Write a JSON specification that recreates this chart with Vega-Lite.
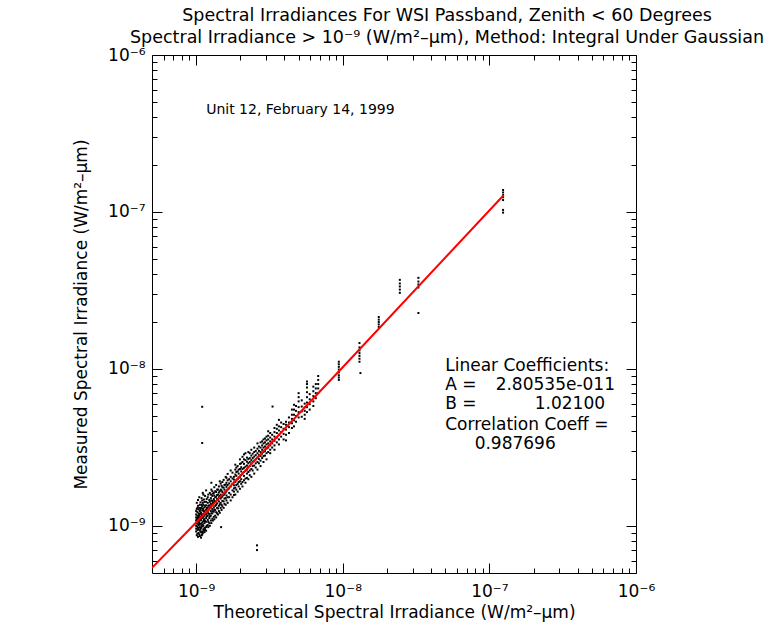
{
"$schema":"https://vega.github.io/schema/vega-lite/v6.json",
"width":484,"height":518,
"autosize":{"type":"none"},
"padding":{"left":152,"top":55,"right":144,"bottom":53},
"background":"white",
"config":{"view":{"stroke":"black","strokeWidth":1},"font":"DejaVu Sans","text":{"font":"DejaVu Sans"}},
"title":{"text":["Spectral Irradiances For WSI Passband, Zenith < 60 Degrees","Spectral Irradiance > 10⁻⁹ (W/m²–μm), Method: Integral Under Gaussian"],"anchor":"middle","dx":53,"fontSize":17.5,"fontWeight":"normal","font":"DejaVu Sans","color":"black","lineHeight":22,"offset":0},
"resolve":{"axis":{"x":"independent","y":"independent"}},
"layer":[
{"data":{"values":[
{"x":1.00e-9,"y":0.92e-9},{"x":1.00e-9,"y":0.96e-9},{"x":1.00e-9,"y":1.00e-9},{"x":1.00e-9,"y":1.04e-9},{"x":1.00e-9,"y":1.08e-9},{"x":1.00e-9,"y":1.13e-9},{"x":1.00e-9,"y":1.18e-9},{"x":1.00e-9,"y":1.24e-9},
{"x":1.02e-9,"y":0.89e-9},{"x":1.02e-9,"y":0.94e-9},{"x":1.02e-9,"y":0.99e-9},{"x":1.02e-9,"y":1.03e-9},{"x":1.02e-9,"y":1.07e-9},{"x":1.02e-9,"y":1.11e-9},{"x":1.02e-9,"y":1.16e-9},{"x":1.02e-9,"y":1.22e-9},{"x":1.02e-9,"y":1.30e-9},
{"x":1.04e-9,"y":0.90e-9},{"x":1.04e-9,"y":0.95e-9},{"x":1.04e-9,"y":1.01e-9},{"x":1.04e-9,"y":1.06e-9},{"x":1.04e-9,"y":1.10e-9},{"x":1.04e-9,"y":1.15e-9},{"x":1.04e-9,"y":1.20e-9},{"x":1.04e-9,"y":1.27e-9},
{"x":1.06e-9,"y":0.86e-9},{"x":1.06e-9,"y":0.93e-9},{"x":1.06e-9,"y":0.98e-9},{"x":1.06e-9,"y":1.02e-9},{"x":1.06e-9,"y":1.08e-9},{"x":1.06e-9,"y":1.13e-9},{"x":1.06e-9,"y":1.19e-9},{"x":1.06e-9,"y":1.24e-9},{"x":1.06e-9,"y":1.36e-9},
{"x":1.08e-9,"y":0.84e-9},{"x":1.08e-9,"y":0.91e-9},{"x":1.08e-9,"y":0.97e-9},{"x":1.08e-9,"y":1.03e-9},{"x":1.08e-9,"y":1.09e-9},{"x":1.08e-9,"y":1.14e-9},{"x":1.08e-9,"y":1.21e-9},{"x":1.08e-9,"y":1.30e-9},
{"x":1.10e-9,"y":0.88e-9},{"x":1.10e-9,"y":0.92e-9},{"x":1.10e-9,"y":0.99e-9},{"x":1.10e-9,"y":1.05e-9},{"x":1.10e-9,"y":1.12e-9},{"x":1.10e-9,"y":1.18e-9},{"x":1.10e-9,"y":1.25e-9},{"x":1.10e-9,"y":1.33e-9},{"x":1.10e-9,"y":1.45e-9},
{"x":1.12e-9,"y":0.95e-9},{"x":1.12e-9,"y":1.00e-9},{"x":1.12e-9,"y":1.07e-9},{"x":1.12e-9,"y":1.13e-9},{"x":1.12e-9,"y":1.19e-9},{"x":1.12e-9,"y":1.27e-9},{"x":1.12e-9,"y":1.36e-9},{"x":1.12e-9,"y":1.58e-9},
{"x":1.14e-9,"y":0.91e-9},{"x":1.14e-9,"y":0.97e-9},{"x":1.14e-9,"y":1.04e-9},{"x":1.14e-9,"y":1.10e-9},{"x":1.14e-9,"y":1.16e-9},{"x":1.14e-9,"y":1.22e-9},{"x":1.14e-9,"y":1.31e-9},{"x":1.14e-9,"y":1.42e-9},
{"x":1.17e-9,"y":0.93e-9},{"x":1.17e-9,"y":0.98e-9},{"x":1.17e-9,"y":1.06e-9},{"x":1.17e-9,"y":1.12e-9},{"x":1.17e-9,"y":1.19e-9},{"x":1.17e-9,"y":1.26e-9},{"x":1.17e-9,"y":1.35e-9},{"x":1.17e-9,"y":1.42e-9},{"x":1.17e-9,"y":1.68e-9},
{"x":1.20e-9,"y":1.01e-9},{"x":1.20e-9,"y":1.09e-9},{"x":1.20e-9,"y":1.16e-9},{"x":1.20e-9,"y":1.23e-9},{"x":1.20e-9,"y":1.30e-9},{"x":1.20e-9,"y":1.40e-9},{"x":1.20e-9,"y":1.52e-9},
{"x":1.23e-9,"y":1.04e-9},{"x":1.23e-9,"y":1.12e-9},{"x":1.23e-9,"y":1.19e-9},{"x":1.23e-9,"y":1.27e-9},{"x":1.23e-9,"y":1.35e-9},{"x":1.23e-9,"y":1.46e-9},
{"x":1.26e-9,"y":1.08e-9},{"x":1.26e-9,"y":1.16e-9},{"x":1.26e-9,"y":1.24e-9},{"x":1.26e-9,"y":1.31e-9},{"x":1.26e-9,"y":1.38e-9},{"x":1.26e-9,"y":1.50e-9},{"x":1.26e-9,"y":1.58e-9},{"x":1.27e-9,"y":1.88e-9},
{"x":1.29e-9,"y":1.11e-9},{"x":1.29e-9,"y":1.20e-9},{"x":1.29e-9,"y":1.28e-9},{"x":1.29e-9,"y":1.36e-9},{"x":1.29e-9,"y":1.44e-9},{"x":1.29e-9,"y":1.55e-9},{"x":1.29e-9,"y":1.66e-9},
{"x":1.32e-9,"y":1.14e-9},{"x":1.32e-9,"y":1.23e-9},{"x":1.32e-9,"y":1.31e-9},{"x":1.32e-9,"y":1.40e-9},{"x":1.32e-9,"y":1.48e-9},{"x":1.32e-9,"y":1.62e-9},
{"x":1.35e-9,"y":1.16e-9},{"x":1.35e-9,"y":1.26e-9},{"x":1.35e-9,"y":1.34e-9},{"x":1.35e-9,"y":1.43e-9},{"x":1.35e-9,"y":1.52e-9},{"x":1.35e-9,"y":1.66e-9},
{"x":1.39e-9,"y":1.20e-9},{"x":1.39e-9,"y":1.30e-9},{"x":1.39e-9,"y":1.39e-9},{"x":1.39e-9,"y":1.48e-9},{"x":1.39e-9,"y":1.57e-9},{"x":1.39e-9,"y":1.70e-9},
{"x":1.43e-9,"y":1.24e-9},{"x":1.43e-9,"y":1.34e-9},{"x":1.43e-9,"y":1.43e-9},{"x":1.43e-9,"y":1.52e-9},{"x":1.43e-9,"y":1.63e-9},{"x":1.43e-9,"y":1.78e-9},
{"x":1.47e-9,"y":1.30e-9},{"x":1.47e-9,"y":1.40e-9},{"x":1.47e-9,"y":1.49e-9},{"x":1.47e-9,"y":1.58e-9},{"x":1.47e-9,"y":1.70e-9},{"x":1.47e-9,"y":1.86e-9},{"x":1.48e-9,"y":0.98e-9},
{"x":1.51e-9,"y":1.33e-9},{"x":1.51e-9,"y":1.44e-9},{"x":1.51e-9,"y":1.54e-9},{"x":1.51e-9,"y":1.64e-9},{"x":1.51e-9,"y":1.76e-9},{"x":1.51e-9,"y":1.90e-9},
{"x":1.56e-9,"y":1.38e-9},{"x":1.56e-9,"y":1.49e-9},{"x":1.56e-9,"y":1.60e-9},{"x":1.56e-9,"y":1.70e-9},{"x":1.56e-9,"y":1.82e-9},
{"x":1.61e-9,"y":1.45e-9},{"x":1.61e-9,"y":1.56e-9},{"x":1.61e-9,"y":1.66e-9},{"x":1.61e-9,"y":1.77e-9},{"x":1.61e-9,"y":1.88e-9},{"x":1.61e-9,"y":2.02e-9},
{"x":1.68e-9,"y":1.52e-9},{"x":1.68e-9,"y":1.62e-9},{"x":1.68e-9,"y":1.73e-9},{"x":1.68e-9,"y":1.86e-9},{"x":1.68e-9,"y":1.98e-9},
{"x":1.81e-9,"y":1.57e-9},{"x":1.81e-9,"y":1.65e-9},{"x":1.81e-9,"y":1.73e-9},{"x":1.81e-9,"y":1.81e-9},{"x":1.81e-9,"y":1.89e-9},{"x":1.81e-9,"y":1.97e-9},{"x":1.81e-9,"y":2.05e-9},
{"x":1.88e-9,"y":1.70e-9},{"x":1.88e-9,"y":1.82e-9},{"x":1.88e-9,"y":1.95e-9},{"x":1.88e-9,"y":2.08e-9},{"x":1.88e-9,"y":2.20e-9},{"x":1.88e-9,"y":2.35e-9},
{"x":1.95e-9,"y":1.78e-9},{"x":1.95e-9,"y":1.90e-9},{"x":1.95e-9,"y":2.02e-9},{"x":1.95e-9,"y":2.15e-9},{"x":1.95e-9,"y":2.28e-9},
{"x":2.03e-9,"y":1.85e-9},{"x":2.03e-9,"y":1.98e-9},{"x":2.03e-9,"y":2.10e-9},{"x":2.03e-9,"y":2.22e-9},{"x":2.03e-9,"y":2.36e-9},{"x":2.03e-9,"y":2.50e-9},
{"x":2.12e-9,"y":1.95e-9},{"x":2.12e-9,"y":2.08e-9},{"x":2.12e-9,"y":2.20e-9},{"x":2.12e-9,"y":2.34e-9},{"x":2.12e-9,"y":2.48e-9},{"x":2.12e-9,"y":2.65e-9},{"x":2.12e-9,"y":2.85e-9},
{"x":2.22e-9,"y":2.02e-9},{"x":2.22e-9,"y":2.15e-9},{"x":2.22e-9,"y":2.28e-9},{"x":2.22e-9,"y":2.42e-9},{"x":2.22e-9,"y":2.56e-9},{"x":2.22e-9,"y":2.72e-9},
{"x":2.32e-9,"y":2.10e-9},{"x":2.32e-9,"y":2.25e-9},{"x":2.32e-9,"y":2.40e-9},{"x":2.32e-9,"y":2.55e-9},{"x":2.32e-9,"y":2.70e-9},{"x":2.32e-9,"y":2.90e-9},
{"x":2.43e-9,"y":2.25e-9},{"x":2.43e-9,"y":2.40e-9},{"x":2.43e-9,"y":2.55e-9},{"x":2.43e-9,"y":2.70e-9},{"x":2.43e-9,"y":2.88e-9},
{"x":2.55e-9,"y":2.35e-9},{"x":2.55e-9,"y":2.50e-9},{"x":2.55e-9,"y":2.65e-9},{"x":2.55e-9,"y":2.82e-9},{"x":2.55e-9,"y":3.00e-9},
{"x":2.60e-9,"y":0.75e-9},{"x":2.60e-9,"y":0.70e-9},
{"x":2.68e-9,"y":2.50e-9},{"x":2.68e-9,"y":2.66e-9},{"x":2.68e-9,"y":2.82e-9},{"x":2.68e-9,"y":3.00e-9},{"x":2.68e-9,"y":3.20e-9},
{"x":2.82e-9,"y":2.70e-9},{"x":2.82e-9,"y":2.88e-9},{"x":2.82e-9,"y":3.05e-9},{"x":2.82e-9,"y":3.25e-9},{"x":2.82e-9,"y":3.45e-9},
{"x":2.95e-9,"y":2.80e-9},{"x":2.95e-9,"y":3.00e-9},{"x":2.95e-9,"y":3.20e-9},{"x":2.95e-9,"y":3.40e-9},{"x":2.95e-9,"y":3.60e-9},
{"x":3.10e-9,"y":2.95e-9},{"x":3.10e-9,"y":3.15e-9},{"x":3.10e-9,"y":3.35e-9},{"x":3.10e-9,"y":3.55e-9},{"x":3.10e-9,"y":3.75e-9},{"x":3.10e-9,"y":4.00e-9},
{"x":3.30e-9,"y":3.15e-9},{"x":3.30e-9,"y":3.35e-9},{"x":3.30e-9,"y":3.55e-9},{"x":3.30e-9,"y":3.80e-9},{"x":3.32e-9,"y":5.75e-9},
{"x":3.55e-9,"y":3.40e-9},{"x":3.55e-9,"y":3.65e-9},{"x":3.55e-9,"y":3.90e-9},{"x":3.55e-9,"y":4.15e-9},{"x":3.55e-9,"y":4.40e-9},{"x":3.67e-9,"y":4.73e-9},
{"x":3.80e-9,"y":3.70e-9},{"x":3.80e-9,"y":3.95e-9},{"x":3.80e-9,"y":4.25e-9},{"x":3.80e-9,"y":4.55e-9},
{"x":4.10e-9,"y":3.50e-9},{"x":4.10e-9,"y":3.80e-9},{"x":4.10e-9,"y":4.10e-9},{"x":4.10e-9,"y":4.40e-9},{"x":4.10e-9,"y":4.60e-9},
{"x":4.50e-9,"y":4.20e-9},{"x":4.50e-9,"y":4.50e-9},{"x":4.50e-9,"y":4.80e-9},{"x":4.50e-9,"y":5.10e-9},{"x":4.50e-9,"y":5.50e-9},
{"x":4.80e-9,"y":4.60e-9},{"x":4.80e-9,"y":5.00e-9},{"x":4.80e-9,"y":5.40e-9},{"x":4.80e-9,"y":5.80e-9},
{"x":5.00e-9,"y":4.90e-9},{"x":5.00e-9,"y":5.30e-9},{"x":5.00e-9,"y":5.70e-9},{"x":5.00e-9,"y":6.20e-9},{"x":5.00e-9,"y":6.60e-9},{"x":5.00e-9,"y":7.00e-9},
{"x":5.50e-9,"y":4.80e-9},{"x":5.50e-9,"y":5.10e-9},{"x":5.50e-9,"y":5.40e-9},{"x":5.50e-9,"y":5.70e-9},{"x":5.50e-9,"y":6.00e-9},
{"x":5.70e-9,"y":5.30e-9},{"x":5.70e-9,"y":5.70e-9},{"x":5.70e-9,"y":6.10e-9},{"x":5.70e-9,"y":6.60e-9},{"x":5.70e-9,"y":7.10e-9},{"x":5.70e-9,"y":7.60e-9},{"x":5.70e-9,"y":8.00e-9},{"x":5.70e-9,"y":8.30e-9},
{"x":6.30e-9,"y":5.80e-9},{"x":6.30e-9,"y":6.20e-9},{"x":6.30e-9,"y":6.70e-9},{"x":6.30e-9,"y":7.20e-9},{"x":6.30e-9,"y":7.70e-9},
{"x":6.80e-9,"y":7.00e-9},{"x":6.80e-9,"y":7.50e-9},{"x":6.80e-9,"y":8.00e-9},{"x":6.80e-9,"y":8.50e-9},{"x":6.80e-9,"y":9.00e-9},
{"x":9.40e-9,"y":8.50e-9},{"x":9.40e-9,"y":8.80e-9},{"x":9.40e-9,"y":9.10e-9},{"x":9.40e-9,"y":9.50e-9},{"x":9.40e-9,"y":9.90e-9},{"x":9.40e-9,"y":10.3e-9},{"x":9.40e-9,"y":10.7e-9},{"x":9.40e-9,"y":11.1e-9},
{"x":13.0e-9,"y":11.1e-9},{"x":13.0e-9,"y":11.6e-9},{"x":13.0e-9,"y":12.1e-9},{"x":13.0e-9,"y":12.6e-9},{"x":13.0e-9,"y":13.1e-9},{"x":13.0e-9,"y":13.7e-9},{"x":13.0e-9,"y":14.6e-9},{"x":13.2e-9,"y":9.4e-9},
{"x":17.6e-9,"y":18.5e-9},{"x":17.6e-9,"y":19.2e-9},{"x":17.6e-9,"y":19.9e-9},{"x":17.6e-9,"y":20.6e-9},{"x":17.6e-9,"y":21.4e-9},
{"x":24.5e-9,"y":30.5e-9},{"x":24.5e-9,"y":32.0e-9},{"x":24.5e-9,"y":33.5e-9},{"x":24.5e-9,"y":35.0e-9},{"x":24.5e-9,"y":36.9e-9},
{"x":32.8e-9,"y":33.0e-9},{"x":32.8e-9,"y":34.5e-9},{"x":32.8e-9,"y":36.0e-9},{"x":32.8e-9,"y":38.0e-9},{"x":32.8e-9,"y":22.7e-9},
{"x":124e-9,"y":99e-9},{"x":124e-9,"y":103e-9},{"x":124e-9,"y":119e-9},{"x":124e-9,"y":124e-9},{"x":124e-9,"y":128e-9},{"x":124e-9,"y":133e-9},{"x":124e-9,"y":138e-9},
{"x":1.10e-9,"y":3.37e-9},{"x":1.10e-9,"y":5.73e-9},
{"x":1.01e-9,"y":0.87e-9},{"x":1.01e-9,"y":1.10e-9},{"x":1.01e-9,"y":1.28e-9},{"x":1.01e-9,"y":1.40e-9},
{"x":1.03e-9,"y":0.85e-9},{"x":1.03e-9,"y":0.97e-9},{"x":1.03e-9,"y":1.13e-9},{"x":1.03e-9,"y":1.34e-9},{"x":1.03e-9,"y":1.46e-9},
{"x":1.05e-9,"y":0.88e-9},{"x":1.05e-9,"y":1.04e-9},{"x":1.05e-9,"y":1.17e-9},{"x":1.05e-9,"y":1.30e-9},{"x":1.05e-9,"y":1.52e-9},
{"x":1.07e-9,"y":0.95e-9},{"x":1.07e-9,"y":1.11e-9},{"x":1.07e-9,"y":1.27e-9},{"x":1.07e-9,"y":1.41e-9},
{"x":1.09e-9,"y":0.87e-9},{"x":1.09e-9,"y":1.00e-9},{"x":1.09e-9,"y":1.17e-9},{"x":1.09e-9,"y":1.36e-9},{"x":1.09e-9,"y":1.50e-9},
{"x":1.11e-9,"y":0.90e-9},{"x":1.11e-9,"y":1.02e-9},{"x":1.11e-9,"y":1.15e-9},{"x":1.11e-9,"y":1.29e-9},{"x":1.11e-9,"y":1.40e-9},{"x":1.11e-9,"y":1.62e-9},
{"x":1.13e-9,"y":0.93e-9},{"x":1.13e-9,"y":1.09e-9},{"x":1.13e-9,"y":1.24e-9},{"x":1.13e-9,"y":1.47e-9},
{"x":1.15e-9,"y":0.95e-9},{"x":1.15e-9,"y":1.07e-9},{"x":1.15e-9,"y":1.19e-9},{"x":1.15e-9,"y":1.34e-9},{"x":1.15e-9,"y":1.55e-9},
{"x":1.18e-9,"y":1.00e-9},{"x":1.18e-9,"y":1.15e-9},{"x":1.18e-9,"y":1.30e-9},{"x":1.18e-9,"y":1.48e-9},
{"x":1.21e-9,"y":0.98e-9},{"x":1.21e-9,"y":1.06e-9},{"x":1.21e-9,"y":1.20e-9},{"x":1.21e-9,"y":1.34e-9},{"x":1.21e-9,"y":1.58e-9},
{"x":1.24e-9,"y":1.00e-9},{"x":1.24e-9,"y":1.15e-9},{"x":1.24e-9,"y":1.31e-9},{"x":1.24e-9,"y":1.42e-9},{"x":1.24e-9,"y":1.62e-9},
{"x":1.27e-9,"y":1.04e-9},{"x":1.27e-9,"y":1.20e-9},{"x":1.27e-9,"y":1.34e-9},{"x":1.27e-9,"y":1.45e-9},{"x":1.27e-9,"y":1.70e-9},
{"x":1.30e-9,"y":1.08e-9},{"x":1.30e-9,"y":1.24e-9},{"x":1.30e-9,"y":1.40e-9},{"x":1.30e-9,"y":1.60e-9},
{"x":1.33e-9,"y":1.10e-9},{"x":1.33e-9,"y":1.27e-9},{"x":1.33e-9,"y":1.44e-9},{"x":1.33e-9,"y":1.56e-9},{"x":1.33e-9,"y":1.76e-9},
{"x":1.37e-9,"y":1.13e-9},{"x":1.37e-9,"y":1.22e-9},{"x":1.37e-9,"y":1.36e-9},{"x":1.37e-9,"y":1.53e-9},{"x":1.37e-9,"y":1.64e-9},{"x":1.37e-9,"y":1.82e-9},
{"x":1.41e-9,"y":1.18e-9},{"x":1.41e-9,"y":1.29e-9},{"x":1.41e-9,"y":1.47e-9},{"x":1.41e-9,"y":1.58e-9},{"x":1.41e-9,"y":1.70e-9},
{"x":1.45e-9,"y":1.21e-9},{"x":1.45e-9,"y":1.37e-9},{"x":1.45e-9,"y":1.55e-9},{"x":1.45e-9,"y":1.66e-9},{"x":1.45e-9,"y":1.92e-9},
{"x":1.49e-9,"y":1.26e-9},{"x":1.49e-9,"y":1.36e-9},{"x":1.49e-9,"y":1.52e-9},{"x":1.49e-9,"y":1.68e-9},{"x":1.49e-9,"y":1.80e-9},
{"x":1.54e-9,"y":1.30e-9},{"x":1.54e-9,"y":1.43e-9},{"x":1.54e-9,"y":1.57e-9},{"x":1.54e-9,"y":1.75e-9},{"x":1.54e-9,"y":1.96e-9},
{"x":1.59e-9,"y":1.36e-9},{"x":1.59e-9,"y":1.50e-9},{"x":1.59e-9,"y":1.63e-9},{"x":1.59e-9,"y":1.83e-9},{"x":1.59e-9,"y":2.05e-9},
{"x":1.64e-9,"y":1.40e-9},{"x":1.64e-9,"y":1.52e-9},{"x":1.64e-9,"y":1.70e-9},{"x":1.64e-9,"y":1.82e-9},{"x":1.64e-9,"y":1.95e-9},{"x":1.64e-9,"y":2.14e-9},
{"x":1.72e-9,"y":1.45e-9},{"x":1.72e-9,"y":1.58e-9},{"x":1.72e-9,"y":1.78e-9},{"x":1.72e-9,"y":1.92e-9},{"x":1.72e-9,"y":2.05e-9},{"x":1.72e-9,"y":2.25e-9},
{"x":1.77e-9,"y":1.52e-9},{"x":1.77e-9,"y":1.68e-9},{"x":1.77e-9,"y":1.85e-9},{"x":1.77e-9,"y":2.00e-9},{"x":1.77e-9,"y":2.18e-9},
{"x":1.85e-9,"y":1.58e-9},{"x":1.85e-9,"y":1.75e-9},{"x":1.85e-9,"y":1.90e-9},{"x":1.85e-9,"y":2.12e-9},{"x":1.85e-9,"y":2.28e-9},{"x":1.85e-9,"y":2.45e-9},
{"x":1.92e-9,"y":1.65e-9},{"x":1.92e-9,"y":1.85e-9},{"x":1.92e-9,"y":1.98e-9},{"x":1.92e-9,"y":2.22e-9},{"x":1.92e-9,"y":2.40e-9},
{"x":1.99e-9,"y":1.72e-9},{"x":1.99e-9,"y":1.92e-9},{"x":1.99e-9,"y":2.05e-9},{"x":1.99e-9,"y":2.30e-9},{"x":1.99e-9,"y":2.48e-9},{"x":1.99e-9,"y":2.65e-9},
{"x":2.07e-9,"y":1.78e-9},{"x":2.07e-9,"y":1.90e-9},{"x":2.07e-9,"y":2.15e-9},{"x":2.07e-9,"y":2.30e-9},{"x":2.07e-9,"y":2.55e-9},{"x":2.07e-9,"y":2.75e-9},
{"x":2.17e-9,"y":1.88e-9},{"x":2.17e-9,"y":2.00e-9},{"x":2.17e-9,"y":2.24e-9},{"x":2.17e-9,"y":2.38e-9},{"x":2.17e-9,"y":2.62e-9},{"x":2.17e-9,"y":2.90e-9},
{"x":2.27e-9,"y":1.98e-9},{"x":2.27e-9,"y":2.20e-9},{"x":2.27e-9,"y":2.35e-9},{"x":2.27e-9,"y":2.50e-9},{"x":2.27e-9,"y":2.66e-9},{"x":2.27e-9,"y":2.95e-9},
{"x":2.38e-9,"y":2.05e-9},{"x":2.38e-9,"y":2.30e-9},{"x":2.38e-9,"y":2.48e-9},{"x":2.38e-9,"y":2.62e-9},{"x":2.38e-9,"y":2.80e-9},{"x":2.38e-9,"y":3.05e-9},
{"x":2.49e-9,"y":2.15e-9},{"x":2.49e-9,"y":2.42e-9},{"x":2.49e-9,"y":2.60e-9},{"x":2.49e-9,"y":2.76e-9},{"x":2.49e-9,"y":2.95e-9},{"x":2.49e-9,"y":3.15e-9},
{"x":2.62e-9,"y":2.28e-9},{"x":2.62e-9,"y":2.55e-9},{"x":2.62e-9,"y":2.72e-9},{"x":2.62e-9,"y":2.90e-9},{"x":2.62e-9,"y":3.10e-9},{"x":2.62e-9,"y":3.35e-9},
{"x":2.75e-9,"y":2.40e-9},{"x":2.75e-9,"y":2.60e-9},{"x":2.75e-9,"y":2.78e-9},{"x":2.75e-9,"y":2.95e-9},{"x":2.75e-9,"y":3.15e-9},{"x":2.75e-9,"y":3.40e-9},
{"x":2.88e-9,"y":2.55e-9},{"x":2.88e-9,"y":2.78e-9},{"x":2.88e-9,"y":2.95e-9},{"x":2.88e-9,"y":3.15e-9},{"x":2.88e-9,"y":3.35e-9},{"x":2.88e-9,"y":3.55e-9},
{"x":3.02e-9,"y":2.65e-9},{"x":3.02e-9,"y":2.90e-9},{"x":3.02e-9,"y":3.10e-9},{"x":3.02e-9,"y":3.30e-9},{"x":3.02e-9,"y":3.50e-9},{"x":3.02e-9,"y":3.70e-9},
{"x":3.20e-9,"y":2.90e-9},{"x":3.20e-9,"y":3.05e-9},{"x":3.20e-9,"y":3.25e-9},{"x":3.20e-9,"y":3.45e-9},{"x":3.20e-9,"y":3.65e-9},{"x":3.20e-9,"y":3.90e-9},
{"x":3.42e-9,"y":3.05e-9},{"x":3.42e-9,"y":3.25e-9},{"x":3.42e-9,"y":3.48e-9},{"x":3.42e-9,"y":3.70e-9},{"x":3.42e-9,"y":3.95e-9},{"x":3.42e-9,"y":4.20e-9},
{"x":3.67e-9,"y":3.30e-9},{"x":3.67e-9,"y":3.55e-9},{"x":3.67e-9,"y":3.80e-9},{"x":3.67e-9,"y":4.05e-9},{"x":3.67e-9,"y":4.30e-9},
{"x":3.95e-9,"y":3.55e-9},{"x":3.95e-9,"y":3.85e-9},{"x":3.95e-9,"y":4.15e-9},{"x":3.95e-9,"y":4.45e-9},
{"x":4.30e-9,"y":3.90e-9},{"x":4.30e-9,"y":4.25e-9},{"x":4.30e-9,"y":4.55e-9},{"x":4.30e-9,"y":4.90e-9},
{"x":4.65e-9,"y":4.30e-9},{"x":4.65e-9,"y":4.70e-9},{"x":4.65e-9,"y":5.10e-9},{"x":4.65e-9,"y":5.50e-9},{"x":4.65e-9,"y":5.90e-9},
{"x":5.25e-9,"y":4.95e-9},{"x":5.25e-9,"y":5.35e-9},{"x":5.25e-9,"y":5.75e-9},{"x":5.25e-9,"y":6.30e-9},
{"x":5.95e-9,"y":5.50e-9},{"x":5.95e-9,"y":5.95e-9},{"x":5.95e-9,"y":6.40e-9},{"x":5.95e-9,"y":6.90e-9},
{"x":6.55e-9,"y":6.50e-9},{"x":6.55e-9,"y":7.00e-9},{"x":6.55e-9,"y":7.50e-9},{"x":6.55e-9,"y":8.00e-9}
]},
"mark":{"type":"square","size":4,"color":"black","opacity":1},
"encoding":{
"x":{"field":"x","type":"quantitative","scale":{"type":"log","domain":[5e-10,1e-6],"nice":false},
"axis":{"orient":"bottom","grid":false,"domain":false,"labelOverlap":false,"labelFlush":false,"labelBound":false,
"values":[6e-10,7e-10,8e-10,9e-10,1e-9,2e-9,3e-9,4e-9,5e-9,6e-9,7e-9,8e-9,9e-9,1e-8,2e-8,3e-8,4e-8,5e-8,6e-8,7e-8,8e-8,9e-8,1e-7,2e-7,3e-7,4e-7,5e-7,6e-7,7e-7,8e-7,9e-7,1e-6],
"tickSize":{"condition":{"test":"abs(log(datum.value)/LN10 - round(log(datum.value)/LN10)) < 0.001","value":-10},"value":-5},
"tickColor":"black","tickWidth":1,
"labelExpr":"abs(log(datum.value)/LN10 - round(log(datum.value)/LN10)) < 0.001 ? (round(log(datum.value)/LN10) == -9 ? '10⁻⁹' : round(log(datum.value)/LN10) == -8 ? '10⁻⁸' : round(log(datum.value)/LN10) == -7 ? '10⁻⁷' : '10⁻⁶') : ''",
"labelFont":"DejaVu Sans","labelFontSize":17,"labelColor":"black","labelPadding":20,
"title":"Theoretical Spectral Irradiance (W/m²–μm)","titleFont":"DejaVu Sans","titleFontSize":17,"titleFontWeight":"normal","titleColor":"black","titlePadding":0}},
"y":{"field":"y","type":"quantitative","scale":{"type":"log","domain":[5e-10,1e-6],"nice":false},
"axis":{"orient":"left","grid":false,"domain":false,"labelOverlap":false,"labelFlush":false,"labelBound":false,
"values":[6e-10,7e-10,8e-10,9e-10,1e-9,2e-9,3e-9,4e-9,5e-9,6e-9,7e-9,8e-9,9e-9,1e-8,2e-8,3e-8,4e-8,5e-8,6e-8,7e-8,8e-8,9e-8,1e-7,2e-7,3e-7,4e-7,5e-7,6e-7,7e-7,8e-7,9e-7,1e-6],
"tickSize":{"condition":{"test":"abs(log(datum.value)/LN10 - round(log(datum.value)/LN10)) < 0.001","value":-10},"value":-5},
"tickColor":"black","tickWidth":1,
"labelExpr":"abs(log(datum.value)/LN10 - round(log(datum.value)/LN10)) < 0.001 ? (round(log(datum.value)/LN10) == -9 ? '10⁻⁹' : round(log(datum.value)/LN10) == -8 ? '10⁻⁸' : round(log(datum.value)/LN10) == -7 ? '10⁻⁷' : '10⁻⁶') : ''",
"labelFont":"DejaVu Sans","labelFontSize":17,"labelColor":"black","labelPadding":17,
"title":"Measured Spectral Irradiance (W/m²–μm)","titleFont":"DejaVu Sans","titleFontSize":17,"titleFontWeight":"normal","titleColor":"black","titlePadding":17}}
}},
{"data":{"values":[{"x":5e-10,"y":5.39e-10},{"x":1e-9,"y":1.049e-9},{"x":1e-8,"y":1.024e-8},{"x":1.25e-7,"y":1.277e-7}]},
"mark":{"type":"line","color":"#ff0000","strokeWidth":2,"clip":true},
"encoding":{
"x":{"field":"x","type":"quantitative","scale":{"type":"log","domain":[5e-10,1e-6],"nice":false},
"axis":{"orient":"top","grid":false,"domain":false,"labels":false,"title":null,
"values":[6e-10,7e-10,8e-10,9e-10,1e-9,2e-9,3e-9,4e-9,5e-9,6e-9,7e-9,8e-9,9e-9,1e-8,2e-8,3e-8,4e-8,5e-8,6e-8,7e-8,8e-8,9e-8,1e-7,2e-7,3e-7,4e-7,5e-7,6e-7,7e-7,8e-7,9e-7,1e-6],
"tickSize":{"condition":{"test":"abs(log(datum.value)/LN10 - round(log(datum.value)/LN10)) < 0.001","value":-10},"value":-5},
"tickColor":"black","tickWidth":1}},
"y":{"field":"y","type":"quantitative","scale":{"type":"log","domain":[5e-10,1e-6],"nice":false},
"axis":{"orient":"right","grid":false,"domain":false,"labels":false,"title":null,
"values":[6e-10,7e-10,8e-10,9e-10,1e-9,2e-9,3e-9,4e-9,5e-9,6e-9,7e-9,8e-9,9e-9,1e-8,2e-8,3e-8,4e-8,5e-8,6e-8,7e-8,8e-8,9e-8,1e-7,2e-7,3e-7,4e-7,5e-7,6e-7,7e-7,8e-7,9e-7,1e-6],
"tickSize":{"condition":{"test":"abs(log(datum.value)/LN10 - round(log(datum.value)/LN10)) < 0.001","value":-10},"value":-5},
"tickColor":"black","tickWidth":1}}
}},
{"data":{"values":[
{"x":1.17e-9,"y":4.47e-7,"label":"Unit 12, February 14, 1999"}
]},
"mark":{"type":"text","align":"left","baseline":"middle","fontSize":14,"font":"DejaVu Sans","color":"black"},
"encoding":{
"x":{"field":"x","type":"quantitative","scale":{"type":"log","domain":[5e-10,1e-6],"nice":false},"axis":null},
"y":{"field":"y","type":"quantitative","scale":{"type":"log","domain":[5e-10,1e-6],"nice":false},"axis":null},
"text":{"field":"label"}}},
{"data":{"values":[
{"x":5.0e-8,"y":1.045e-8,"label":"Linear Coefficients:"},
{"x":5.0e-8,"y":7.91e-9,"label":"A ="},
{"x":5.0e-8,"y":5.98e-9,"label":"B ="},
{"x":5.0e-8,"y":4.40e-9,"label":"Correlation Coeff ="}
]},
"mark":{"type":"text","align":"left","baseline":"middle","fontSize":17,"font":"DejaVu Sans","color":"black"},
"encoding":{
"x":{"field":"x","type":"quantitative","scale":{"type":"log","domain":[5e-10,1e-6],"nice":false},"axis":null},
"y":{"field":"y","type":"quantitative","scale":{"type":"log","domain":[5e-10,1e-6],"nice":false},"axis":null},
"text":{"field":"label"}}},
{"data":{"values":[
{"x":7.19e-7,"y":7.91e-9,"label":"2.80535e-011"},
{"x":6.15e-7,"y":5.98e-9,"label":"1.02100"}
]},
"mark":{"type":"text","align":"right","baseline":"middle","fontSize":17,"font":"DejaVu Sans","color":"black"},
"encoding":{
"x":{"field":"x","type":"quantitative","scale":{"type":"log","domain":[5e-10,1e-6],"nice":false},"axis":null},
"y":{"field":"y","type":"quantitative","scale":{"type":"log","domain":[5e-10,1e-6],"nice":false},"axis":null},
"text":{"field":"label"}}},
{"data":{"values":[
{"x":1.5e-7,"y":3.33e-9,"label":"0.987696"}
]},
"mark":{"type":"text","align":"center","baseline":"middle","fontSize":17,"font":"DejaVu Sans","color":"black"},
"encoding":{
"x":{"field":"x","type":"quantitative","scale":{"type":"log","domain":[5e-10,1e-6],"nice":false},"axis":null},
"y":{"field":"y","type":"quantitative","scale":{"type":"log","domain":[5e-10,1e-6],"nice":false},"axis":null},
"text":{"field":"label"}}}
]
}
